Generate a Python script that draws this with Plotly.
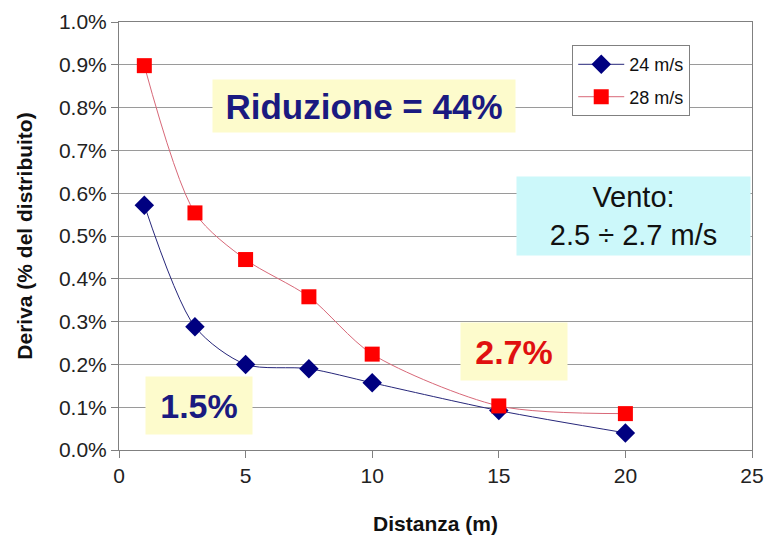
import plotly.graph_objects as go

# Distance from the sprayer (m)
distanza = [1, 3, 5, 7.5, 10, 15, 20]
# Drift as fraction of the applied volume
deriva_24 = [0.00572, 0.00288, 0.00200, 0.00190, 0.00157, 0.00092, 0.00040]
deriva_28 = [0.00898, 0.00554, 0.00445, 0.00358, 0.00224, 0.00103, 0.00085]
serie_nomi = ["24 m/s", "28 m/s"]

FONT = "Liberation Sans, Arial, sans-serif"

fig = go.Figure()
fig.add_trace(go.Scatter(
    x=distanza, y=deriva_24, name=serie_nomi[0], mode="lines+markers", legendgroup="a",
    line=dict(color="#26267a", width=1, shape="spline", smoothing=0.8),
    marker=dict(symbol="diamond", size=15, color="#000080"),
))
fig.add_trace(go.Scatter(
    x=distanza, y=deriva_28, name=serie_nomi[1], mode="lines+markers", legendgroup="b",
    line=dict(color="#d86878", width=1, shape="spline", smoothing=0.8),
    marker=dict(symbol="square", size=15, color="#ff0000"),
))

axis_common = dict(
    showline=True, linecolor="#808080", linewidth=1, mirror=True,
    ticks="outside", ticklen=7, tickcolor="#808080",
    tickfont=dict(family=FONT, size=21, color="#222"),
    zeroline=False, automargin=False,
)

fig.update_xaxes(
    range=[0, 25], dtick=5, showgrid=False,
    title=dict(text="<b>Distanza (m)</b>", font=dict(family=FONT, size=21, color="#111"), standoff=30),
    **axis_common,
)
fig.update_yaxes(
    range=[0, 0.01], dtick=0.001, tickformat=".1%",
    showgrid=True, gridcolor="#9a9a9a", gridwidth=1,
    title=dict(text="<b>Deriva (% del distribuito)</b>", font=dict(family=FONT, size=21, color="#111"), standoff=20),
    **axis_common,
)

annotazioni = [
    dict(x=9.66, y=0.00804, text="<b>Riduzione = 44%</b>", color="#1a1a80", bg="#fdfbcc", size=35, w=300, h=50),
    dict(x=20.32, y=0.00547, text="Vento:<br>2.5 ÷ 2.7 m/s", color="#111", bg="#ccf8fa", size=29, w=231, h=76),
    dict(x=15.6, y=0.00229, text="<b>2.7%</b>", color="#e01010", bg="#fdfbcc", size=34, w=104, h=55),
    dict(x=3.16, y=0.00105, text="<b>1.5%</b>", color="#1a1a80", bg="#fdfbcc", size=34, w=104, h=55),
]
for a in annotazioni:
    fig.add_annotation(
        x=a["x"], y=a["y"], xref="x", yref="y", text=a["text"], showarrow=False,
        font=dict(family=FONT, size=a["size"], color=a["color"]),
        bgcolor=a["bg"], width=a["w"], height=a["h"], align="center", valign="middle",
    )

fig.update_layout(
    width=770, height=536,
    margin=dict(l=119, r=18, t=22, b=86),
    paper_bgcolor="white", plot_bgcolor="white",
    showlegend=True,
    legend=dict(
        x=0.716, y=0.946, xanchor="left", yanchor="top",
        bgcolor="white", bordercolor="#808080", borderwidth=1,
        font=dict(family=FONT, size=18, color="#111"),
        itemwidth=46, tracegroupgap=6,
    ),
)

fig.write_html("out.html")
